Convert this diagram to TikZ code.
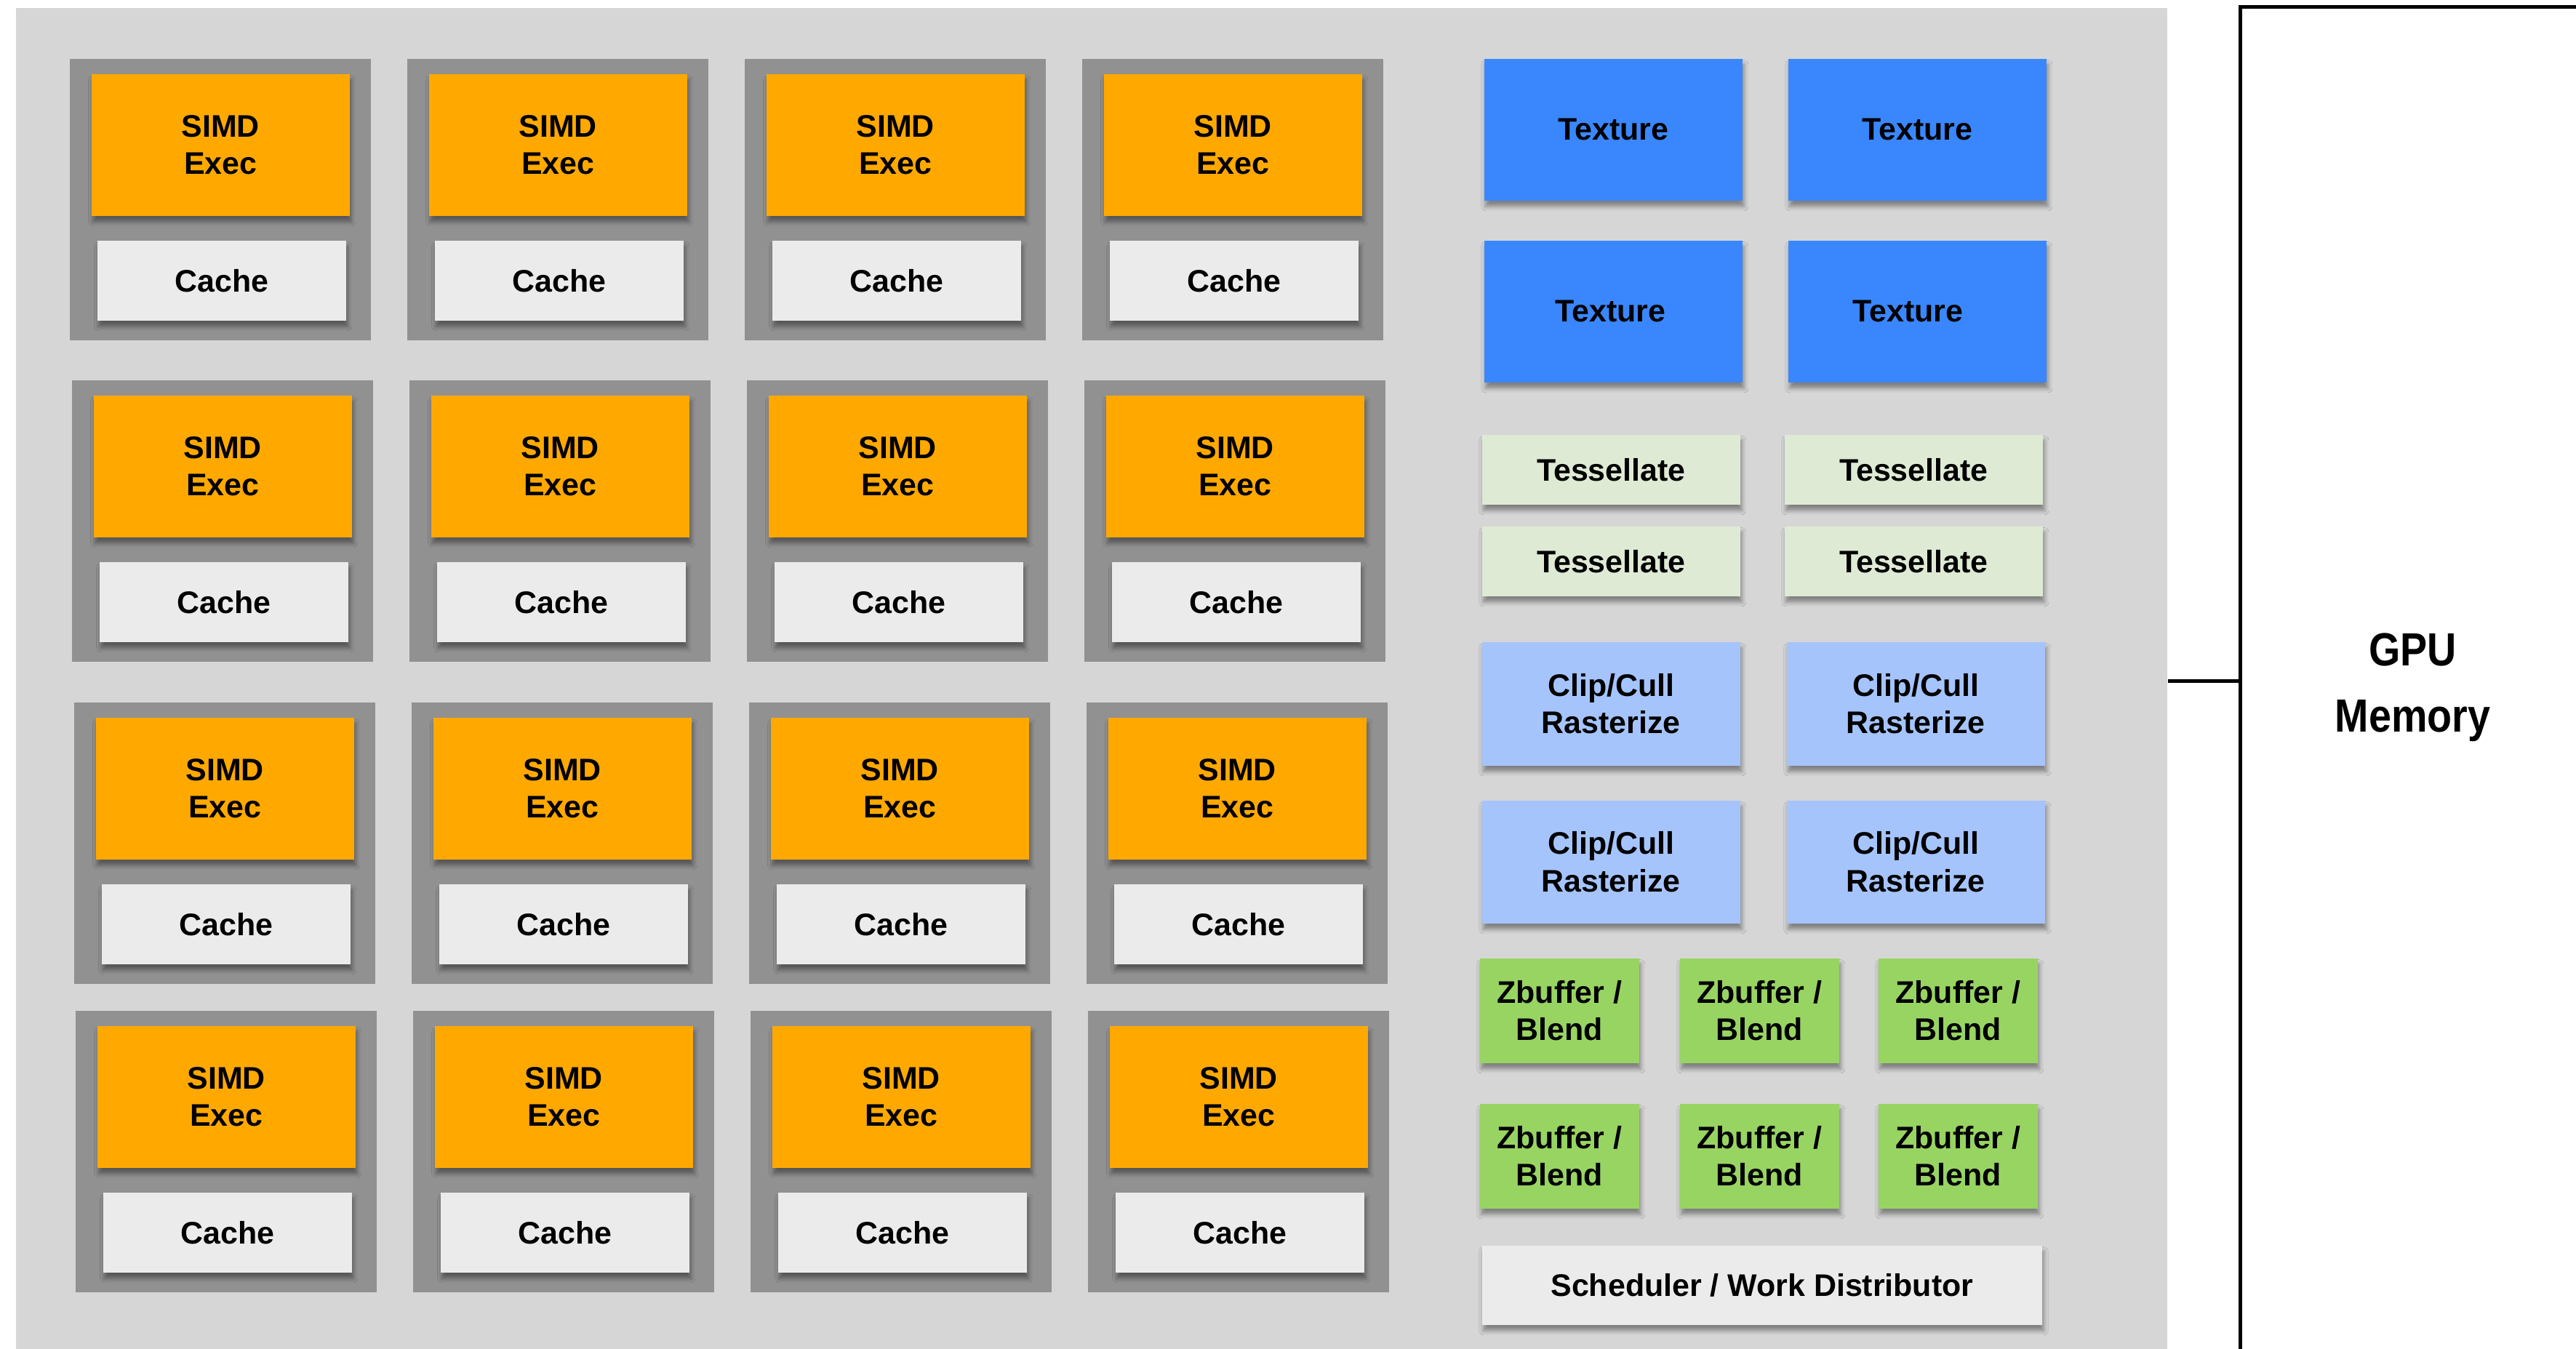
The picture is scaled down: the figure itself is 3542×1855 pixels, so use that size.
\documentclass[tikz,border=0pt]{standalone}
\usepackage{fontspec}
\usepackage{graphicx}
\setmainfont{Liberation Sans}
\usetikzlibrary{shadows.blur}
\definecolor{bgGray}{HTML}{D6D6D6}
\definecolor{modGray}{HTML}{919191}
\definecolor{simdOrange}{HTML}{FFA900}
\definecolor{cacheGray}{HTML}{EBEBEB}
\definecolor{texBlue}{HTML}{3A87FD}
\definecolor{tessGreen}{HTML}{DFEAD4}
\definecolor{clipBlue}{HTML}{A6C4FC}
\definecolor{zbGreen}{HTML}{98D462}
\tikzset{
  unit/.style={draw=none, inner sep=0pt, anchor=north west, align=center,
    font=\fontsize{12.2}{14.7}\selectfont\bfseries,
    blur shadow={shadow xshift=0.02cm, shadow yshift=-0.08cm, shadow blur radius=0.06cm, shadow opacity=40}},
  modbox/.style={fill=modGray, draw=none, inner sep=0pt, anchor=north west, minimum width=4.14cm, minimum height=3.87cm},
  simd/.style={unit, fill=simdOrange, minimum width=3.55cm, minimum height=1.95cm},
  cachebox/.style={unit, fill=cacheGray, minimum width=3.42cm, minimum height=1.10cm},
  texbox/.style={unit, fill=texBlue, minimum width=3.55cm, minimum height=1.95cm},
  tessbox/.style={unit, fill=tessGreen, minimum width=3.55cm, minimum height=0.96cm},
  clipbox/.style={unit, fill=clipBlue, minimum width=3.55cm, minimum height=1.70cm},
  zbbox/.style={unit, fill=zbGreen, minimum width=2.19cm, minimum height=1.44cm},
  schedbox/.style={unit, fill=cacheGray, minimum width=7.70cm, minimum height=1.09cm},
  memline/.style={line width=1.4pt, draw=black}
}
\begin{document}
\begin{tikzpicture}[x=0.01cm,y=-0.01cm]
\useasboundingbox (0,0) rectangle (3542,1855);
\fill[white] (0,0) rectangle (3542,1855);
% chip background
\node[fill=bgGray, inner sep=0pt, anchor=north west, minimum width=29.57cm, minimum height=18.50cm] (bg) at (21,10) {};
% GPU memory
\node[memline, inner sep=0pt, anchor=north west, minimum width=4.74cm, minimum height=18.70cm,
  font=\fontsize{18.2}{25.9}\selectfont\bfseries, align=center] (mem) at (3078,7)
  {\scalebox{0.87}[1]{GPU}\\\scalebox{0.87}[1]{Memory}};
\draw[memline] (bg.east) -- (bg.east -| mem.west);
% SIMD modules
\foreach \r/\y/\dx in {1/80/0, 2/522/3, 3/965/6, 4/1389/8} {
  \foreach \c in {1,2,3,4} {
    \pgfmathsetmacro{\xx}{95+464*(\c-1)+\dx}
    \node[modbox] (mod\r\c) at (\xx,\y) {};
    \node[simd] (simd\r\c) at ($(mod\r\c.north west)+(30,21)$) {\raisebox{-0.05cm}{SIMD}\\\raisebox{-0.05cm}{Exec}};
    \node[cachebox] (cache\r\c) at ($(mod\r\c.north west)+(38,250)$) {Cache};
  }
}
% Texture units
\node[texbox] (tex1) at (2040,80) {Texture};
\node[texbox] (tex2) at (2458,80) {Texture};
\node[texbox] (tex3) at (2040,330) {\hspace*{-0.08cm}Texture};
\node[texbox] (tex4) at (2458,330) {\hspace*{-0.26cm}Texture};
% Tessellate
\node[tessbox] (tess1) at (2037,597) {Tessellate};
\node[tessbox] (tess2) at (2453,597) {Tessellate};
\node[tessbox] (tess3) at (2037,723) {Tessellate};
\node[tessbox] (tess4) at (2453,723) {Tessellate};
% Clip/Cull
\node[clipbox] (clip1) at (2037,882) {Clip/Cull\\Rasterize};
\node[clipbox] (clip2) at (2456,882) {Clip/Cull\\Rasterize};
\node[clipbox, minimum height=1.69cm] (clip3) at (2037,1100) {Clip/Cull\\Rasterize};
\node[clipbox, minimum height=1.69cm] (clip4) at (2456,1100) {Clip/Cull\\Rasterize};
% Zbuffer / Blend
\node[zbbox] (zb1) at (2034,1317) {Zbuffer /\\Blend};
\node[zbbox] (zb2) at (2309,1317) {Zbuffer /\\Blend};
\node[zbbox] (zb3) at (2582,1317) {Zbuffer /\\Blend};
\node[zbbox] (zb4) at (2034,1517) {Zbuffer /\\Blend};
\node[zbbox] (zb5) at (2309,1517) {Zbuffer /\\Blend};
\node[zbbox] (zb6) at (2582,1517) {Zbuffer /\\Blend};
% Scheduler
\node[schedbox] (sched) at (2037,1712) {Scheduler / Work Distributor};
\end{tikzpicture}
\end{document}
